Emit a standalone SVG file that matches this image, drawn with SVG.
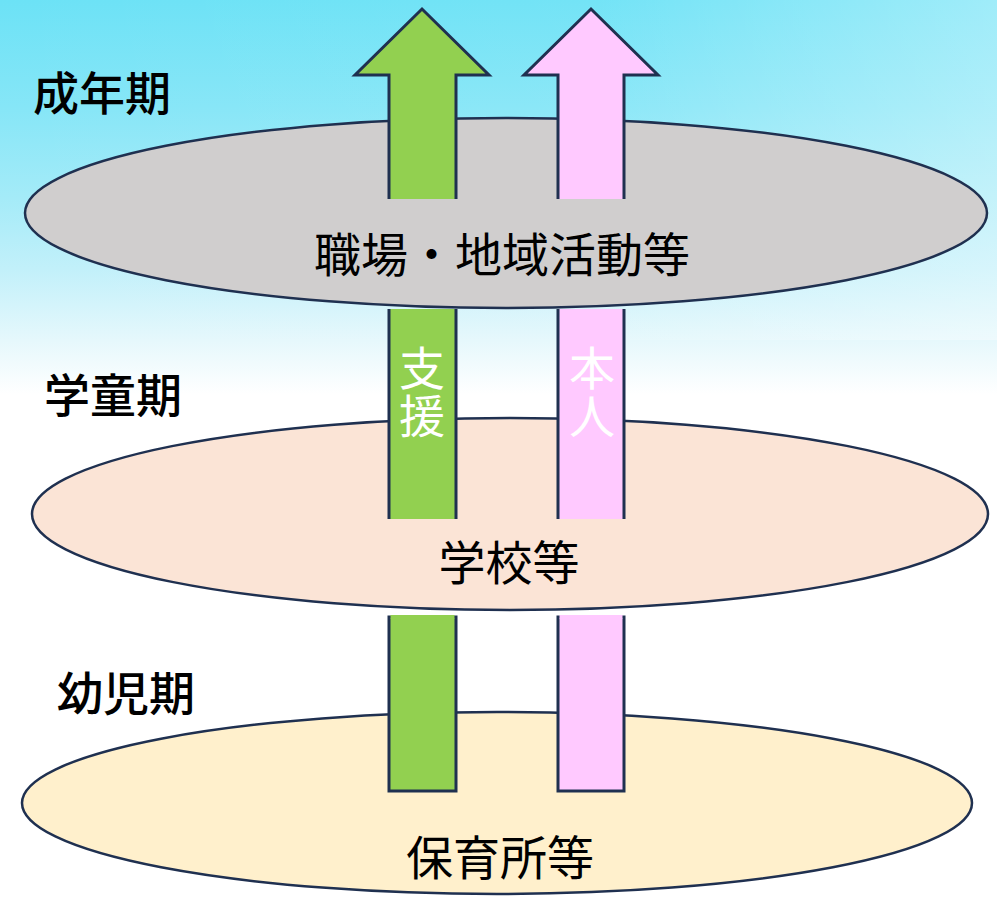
<svg xmlns="http://www.w3.org/2000/svg" width="997" height="897" viewBox="0 0 997 897">
  <defs>
    <linearGradient id="sky" x1="0" y1="0" x2="0" y2="1" gradientUnits="objectBoundingBox">
      <stop offset="0" stop-color="#6ce2f6"/>
      <stop offset="0.12" stop-color="#86e6f7"/>
      <stop offset="0.22" stop-color="#a4ebf8"/>
      <stop offset="0.3" stop-color="#c2f0fa"/>
      <stop offset="0.38" stop-color="#e6f8fc"/>
      <stop offset="0.44" stop-color="#ffffff"/>
      <stop offset="1" stop-color="#ffffff"/>
    </linearGradient>
    <linearGradient id="haze" x1="0" y1="0" x2="1" y2="0">
      <stop offset="0" stop-color="#ffffff" stop-opacity="0"/>
      <stop offset="0.6" stop-color="#ffffff" stop-opacity="0.05"/>
      <stop offset="1" stop-color="#ffffff" stop-opacity="0.35"/>
    </linearGradient>
    <style>
      .ell { stroke: #1f3050; stroke-width: 2.5; }
      .bar { stroke: #1f3050; stroke-width: 3; stroke-linejoin: miter; }
      .edge { fill: none; stroke: #1f3050; stroke-width: 3; }
      .green { fill: #92d050; }
      .pink { fill: #ffc9ff; }
      .period { font-family: "Noto Sans CJK JP", "Noto Sans CJK SC", sans-serif; font-size: 46px; font-weight: 500; fill: #000; }
      .place { font-family: "Noto Sans CJK JP", "Noto Sans CJK SC", sans-serif; font-size: 47px; fill: #000; text-anchor: middle; }
      .vert { font-family: "Noto Sans CJK JP", "Noto Sans CJK SC", sans-serif; font-size: 46px; fill: #fff; writing-mode: vertical-rl; text-anchor: start; letter-spacing: 2px; }
    </style>
  </defs>

  <rect x="0" y="0" width="997" height="897" fill="url(#sky)"/>
  <rect x="0" y="0" width="997" height="340" fill="url(#haze)"/>

  <g id="node-infant">
    <ellipse class="ell" cx="497" cy="803" rx="475" ry="91" fill="#fff0cc"/>
    <text class="place" x="500" y="875">保育所等</text>
  </g>

  <g id="node-school">
    <ellipse class="ell" cx="510" cy="514" rx="478" ry="96" fill="#fbe4d6"/>
    <text class="place" x="509" y="580">学校等</text>
  </g>

  <g id="node-adult">
    <ellipse class="ell" cx="506" cy="213" rx="481" ry="95" fill="#d0cece"/>
    <text class="place" x="502" y="272">職場・地域活動等</text>
  </g>

  <g id="connectors">
    <g id="arrow-support">
      <path class="green" d="M389,199 L389,75 L355,75 L422,9 L489,75 L456,75 L456,199 Z"/>
      <path class="edge" d="M389,199 L389,75 L355,75 L422,9 L489,75 L456,75 L456,199"/>
      <rect class="green" x="389" y="309" width="67" height="210"/>
      <path class="edge" d="M389,309 L389,519 M456,309 L456,519"/>
      <rect class="green bar" x="389" y="617" width="67" height="174"/>
      <rect class="green" x="390.5" y="615" width="64" height="4"/>
      <text class="vert" x="422" y="345">支援</text>
    </g>
    <g id="arrow-self">
      <path class="pink" d="M558,199 L558,75 L524,75 L591,9 L658,75 L624,75 L624,199 Z"/>
      <path class="edge" d="M558,199 L558,75 L524,75 L591,9 L658,75 L624,75 L624,199"/>
      <rect class="pink" x="558" y="309" width="66" height="210"/>
      <path class="edge" d="M558,309 L558,519 M624,309 L624,519"/>
      <rect class="pink bar" x="558" y="617" width="66" height="174"/>
      <rect class="pink" x="559.5" y="615" width="63" height="4"/>
      <text class="vert" x="592" y="345">本人</text>
    </g>
  </g>

  <g id="labels">
    <text class="period" x="33" y="110">成年期</text>
    <text class="period" x="44" y="412">学童期</text>
    <text class="period" x="57" y="710">幼児期</text>
  </g>
</svg>
